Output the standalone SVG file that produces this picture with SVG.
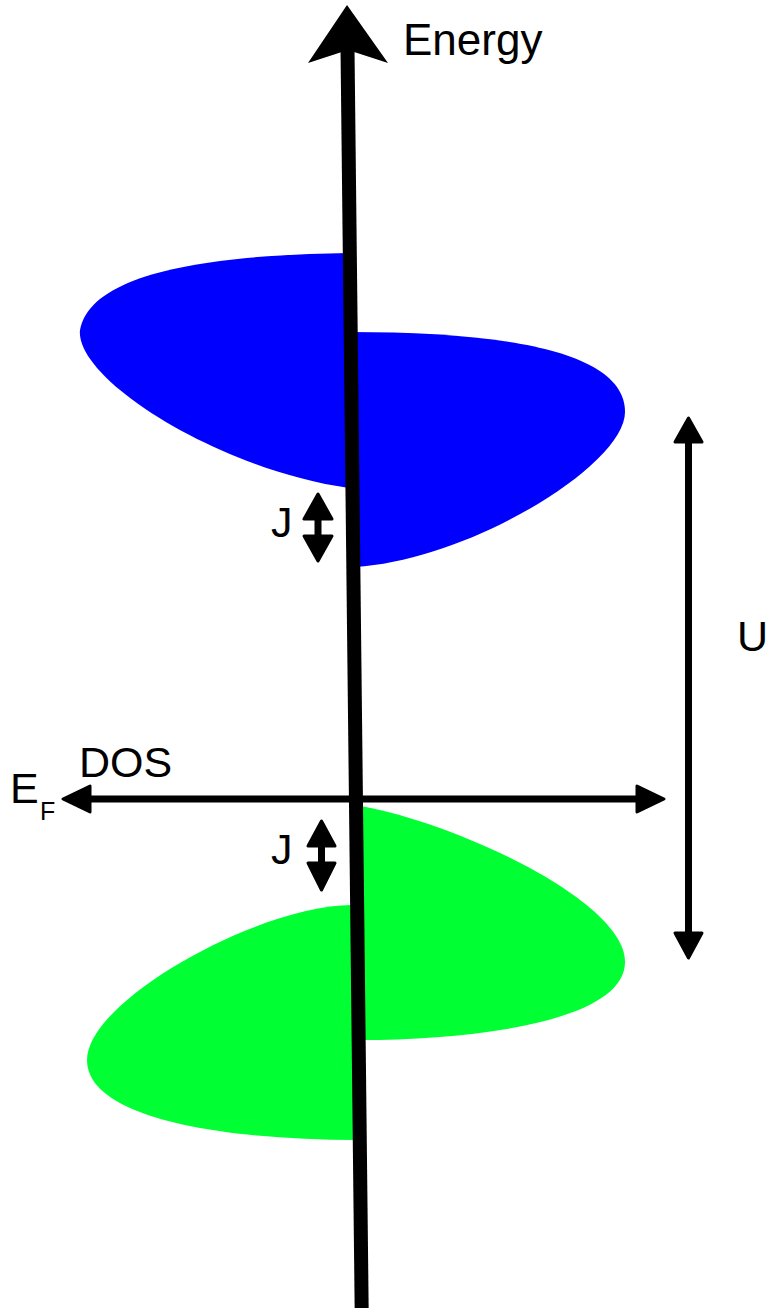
<svg xmlns="http://www.w3.org/2000/svg" width="773" height="1308" viewBox="0 0 773 1308">
<style>
.lbl{font-family:"Liberation Sans",Arial,sans-serif;font-size:43px;fill:#000}
.sub{font-family:"Liberation Sans",Arial,sans-serif;font-size:25px;fill:#000}
.head{fill:#000;stroke:#000;stroke-width:3;stroke-linejoin:round}
.shaft{stroke:#000;fill:none}
.blue{fill:#0000ff}
.green{fill:#00ff33}
</style>
<rect width="773" height="1308" fill="#fff"/>
<g id="band-up-left"><path class="blue" d="M349,253 C200,255 90,275 80,330 C75,380 220,470 349,488 Z"/></g>
<g id="band-up-right"><path class="blue" d="M350,332 C500,332 625,350 625,412 C625,465 470,560 355,567 Z"/></g>
<g id="band-low-right"><path class="green" d="M355,805 C450,820 625,900 625,962 C625,1020 480,1040 360,1040 Z"/></g>
<g id="band-low-left"><path class="green" d="M352,905 C260,905 87,1000 87,1060 C87,1120 230,1140 356,1140 Z"/></g>
<g id="connectors">
  <g id="energy-axis">
    <line class="shaft" x1="347.5" y1="48" x2="361.7" y2="1312" stroke-width="14"/>
    <polygon fill="#000" points="347,5 388,63 348,50 308,63"/>
  </g>
  <g id="dos-axis">
    <line class="shaft" x1="88" y1="799" x2="640" y2="799" stroke-width="7"/>
    <polygon class="head" points="63,799 90,786 90,812"/>
    <polygon class="head" points="664,799 637,786 637,812"/>
  </g>
  <g id="u-arrow">
    <line class="shaft" x1="688.5" y1="440" x2="688.5" y2="935" stroke-width="7"/>
    <polygon class="head" points="688.5,418 675,442 702,442"/>
    <polygon class="head" points="688.5,958 675,933 702,933"/>
  </g>
  <g id="j-arrow-upper">
    <line class="shaft" x1="318" y1="518" x2="318" y2="538" stroke-width="7"/>
    <polygon class="head" points="318,494 304,519 332,519"/>
    <polygon class="head" points="318,561 304,536 332,536"/>
  </g>
  <g id="j-arrow-lower">
    <line class="shaft" x1="321.5" y1="845" x2="321.5" y2="865" stroke-width="7"/>
    <polygon class="head" points="321.5,821 308,846 335,846"/>
    <polygon class="head" points="321.5,890 308,863 335,863"/>
  </g>
</g>
<g id="label-energy"><text class="lbl" x="403" y="55" style="font-size:44px">Energy</text></g>
<g id="label-dos"><text class="lbl" x="79" y="777">DOS</text></g>
<g id="label-ef"><text class="lbl" x="10" y="803">E</text><text class="sub" x="40" y="820">F</text></g>
<g id="label-u"><text class="lbl" x="737" y="651">U</text></g>
<g id="label-j-upper"><text class="lbl" x="271" y="537">J</text></g>
<g id="label-j-lower"><text class="lbl" x="271" y="864">J</text></g>
</svg>
